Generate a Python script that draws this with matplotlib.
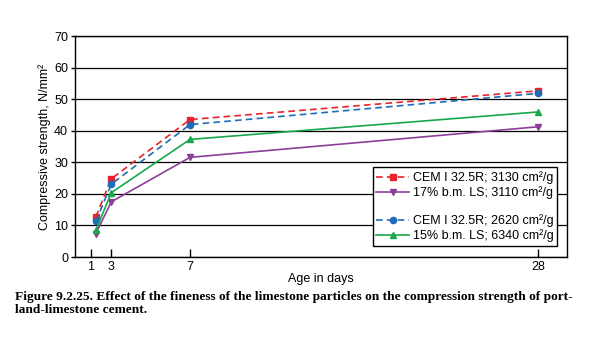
import numpy as np
import matplotlib
matplotlib.use("Agg")
import matplotlib.pyplot as plt

plt.rcParams['font.family'] = ['Liberation Sans', 'DejaVu Sans']

# data (first points sit a bit right of the "1" tick)
ages = [1.5, 3, 7, 28]
cem_3130 = [12.7, 24.8, 43.6, 52.7]
ls17_3110 = [7.4, 17.5, 31.6, 41.3]
cem_2620 = [11.3, 23.1, 42.0, 51.9]
ls15_6340 = [8.5, 20.4, 37.3, 46.0]

xticks = [1, 3, 7, 28]
yticks = [0, 10, 20, 30, 40, 50, 60, 70]

# the age axis is drawn unevenly spaced in the original
day_knots = [-1, 1, 3, 7, 28, 31]
pos_knots = [70, 90.7, 111.3, 190, 538, 588]

def fwd(x):
    return np.interp(x, day_knots, pos_knots)

def inv(p):
    return np.interp(p, pos_knots, day_knots)

fig = plt.figure(figsize=(5.91, 3.37), dpi=100)
ax = fig.add_axes([75/591, 1 - 257/337, (567 - 75)/591, (257 - 36.3)/337])
ax.set_xscale('function', functions=(fwd, inv))

red = '#e8232b'
purple = '#8b3f98'
blue = '#1f6cb8'
green = '#16a84a'

ax.plot(ages, cem_3130, color=red, ls=(0, (4, 2.5)), lw=1.2, marker='s', ms=5,
        label='CEM I 32.5R; 3130 cm²/g')
ax.plot(ages, ls17_3110, color=purple, lw=1.2, marker='v', ms=5,
        label='17% b.m. LS; 3110 cm²/g')
ax.plot([], [], color='none', label=' ')
ax.plot(ages, cem_2620, color=blue, ls=(0, (4, 2.5)), lw=1.2, marker='o', ms=4.5,
        label='CEM I 32.5R; 2620 cm²/g')
ax.plot(ages, ls15_6340, color=green, lw=1.2, marker='^', ms=5,
        label='15% b.m. LS; 6340 cm²/g')

ax.set_xlim(inv(75), inv(567))
ax.set_ylim(0, 70)
ax.set_xticks(xticks)
ax.set_xticklabels([str(t) for t in xticks])
ax.set_yticks(yticks)
ax.xaxis.set_minor_locator(plt.NullLocator())
ax.tick_params(axis='x', direction='in', length=6, width=1, labelsize=9, pad=3)
ax.tick_params(axis='y', direction='out', length=3, width=1, labelsize=9, pad=2)
ax.grid(axis='y', color='black', lw=0.9)
ax.set_axisbelow(True)
for s in ax.spines.values():
    s.set_linewidth(1)

ax.set_xlabel('Age in days', fontsize=9, labelpad=0)
ax.set_ylabel('Compressive strength, N/mm²', fontsize=9, labelpad=2)

leg = ax.legend(loc='lower right', bbox_to_anchor=(0.98, 0.05), fontsize=9,
                frameon=True, fancybox=False, edgecolor='black', framealpha=1,
                handlelength=2.6, handletextpad=0.3, labelspacing=0.2,
                borderpad=0.3, borderaxespad=0)
leg.get_frame().set_linewidth(1)
leg.get_texts()[2].set_fontsize(2)

fig.text(15/591, 1 - 291/337,
         'Figure 9.2.25. Effect of the fineness of the limestone particles on the compression strength of port-\nland-limestone cement.',
         fontsize=9.6, family='Liberation Serif', weight='bold', va='top',
         linespacing=1.1)

fig.savefig('out.png', dpi=100)
